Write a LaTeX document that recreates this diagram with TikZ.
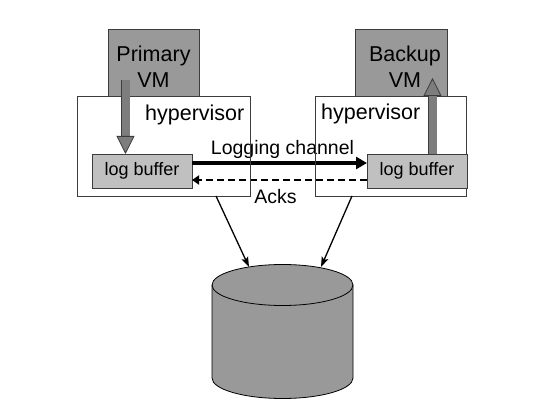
\documentclass[tikz,border=0pt]{standalone}
\usepackage{fontspec}
\setmainfont{Liberation Sans}
\usetikzlibrary{arrows.meta}
\usetikzlibrary{positioning}
\usetikzlibrary{calc}
\definecolor{vmgray}{RGB}{153,153,153}
\definecolor{bufgray}{RGB}{192,192,192}
\definecolor{arrowgray}{RGB}{125,125,125}
\definecolor{edgegray}{RGB}{60,60,60}
\tikzset{
vmbox/.style = {draw=edgegray, fill=vmgray, minimum width=#1,
                minimum height=67pt, inner sep=0pt, outer sep=0pt, anchor=north west},
vmbox/.default = 91pt,
hypbox/.style = {draw=edgegray, fill=white, minimum width=#1,
                 minimum height=100pt, inner sep=0pt, outer sep=0pt, anchor=north west},
bufbox/.style = {draw=edgegray, fill=bufgray, minimum width=100pt,
                 minimum height=34pt, inner sep=0pt, outer sep=0pt, anchor=north west,
                 font=\fontsize{18}{20}\selectfont},
bigtext/.style = {font=\fontsize{21.5}{26}\selectfont, inner sep=0pt, align=center},
chantext/.style = {font=\fontsize{19.5}{22}\selectfont, inner sep=0pt},
fatarrow/.style = {draw=edgegray, line width=0.8pt, double=arrowgray, double distance=8pt,
                   -{Triangle[length=18pt, width=18pt, fill=arrowgray]}},
logline/.style = {line width=4pt, -{Triangle[length=11pt, width=12pt]}},
ackline/.style = {line width=2.5pt, dash pattern=on 7pt off 4pt,
                  -{Triangle[length=7pt, width=9pt]}},
dbline/.style = {line width=1.3pt, -{Stealth[length=10pt, width=7pt, inset=2pt]}},
disk/.style = {draw=black, line width=0.8pt, fill=vmgray}
}

\begin{document}
\begin{tikzpicture}[x=1pt, y=-1pt]
    \useasboundingbox (0,0) rectangle (549,419);

    % virtual machines
    \node[vmbox] (priVM) at (108,29) {};
    \node[vmbox=92pt] (bakVM) at (355,29) {};
    \node[bigtext] (priTxt) at ($(priVM)+(0,4)$) {Primary\\VM};
    \node[bigtext] (bakTxt) at ($(bakVM)+(4,4)$) {Backup\\VM};

    % hypervisors
    \node[hypbox=173pt] (hypL) at (77,96) {};
    \node[hypbox=151pt] (hypR) at (315,96) {};
    \node[bigtext, anchor=base west] (hypLTxt) at ($(hypL.north west)+(68,25)$) {hypervisor};
    \node[bigtext, anchor=base west] (hypRTxt) at ($(hypR.north west)+(6,24)$) {hypervisor};

    % log buffers
    \node[bufbox] (logL) at (92,154) {log buffer};
    \node[bufbox] (logR) at (367,154) {log buffer};

    % VM <-> log buffer
    \coordinate (priOut) at ($(priVM.south west)+(17.5,-16)$);
    \coordinate (bakIn) at ($(bakVM.south east)+(-14.5,-18)$);
    \draw[fatarrow] (priOut) -- (priOut |- logL.north);
    \draw[fatarrow] (bakIn |- logR.north) -- (bakIn);

    % channel between the buffers
    \draw[logline] ($(logL.east)+(0,-8)$) -- ($(logR.west)+(0,-8)$)
        node[chantext, midway, above=2pt, xshift=3pt] (chanTxt) {Logging channel};
    \draw[ackline] ($(logR.west)+(0,9)$) -- ($(logL.east)+(0,9)$)
        node[chantext, midway, below=8pt, xshift=-4pt] (ackTxt) {Acks};
    % hypervisor edges show through
    \draw[edgegray] (hypL.north east) -- (hypL.south east);
    \draw[edgegray] (hypR.north west) -- (hypR.south west);

    % shared disk
    \coordinate (db) at (282.5,285);
    \draw[disk] ($(db)+(-70.5,0)$) -- ++(0,93)
        arc[start angle=180, end angle=0, x radius=70.5, y radius=20.5]
        -- ++(0,-93) arc[start angle=360, end angle=180, x radius=70.5, y radius=20.5] -- cycle;
    \draw[line width=0.8pt] ($(db)+(-70.5,0)$)
        arc[start angle=180, end angle=0, x radius=70.5, y radius=20.5];
    \draw[dbline] ($(hypL.south east)+(-34,0)$) -- ($(db)+(-33.5,-18)$);
    \draw[dbline] ($(hypR.south west)+(37,0)$) -- ($(db)+(38.5,-18)$);
\end{tikzpicture}
\end{document}
